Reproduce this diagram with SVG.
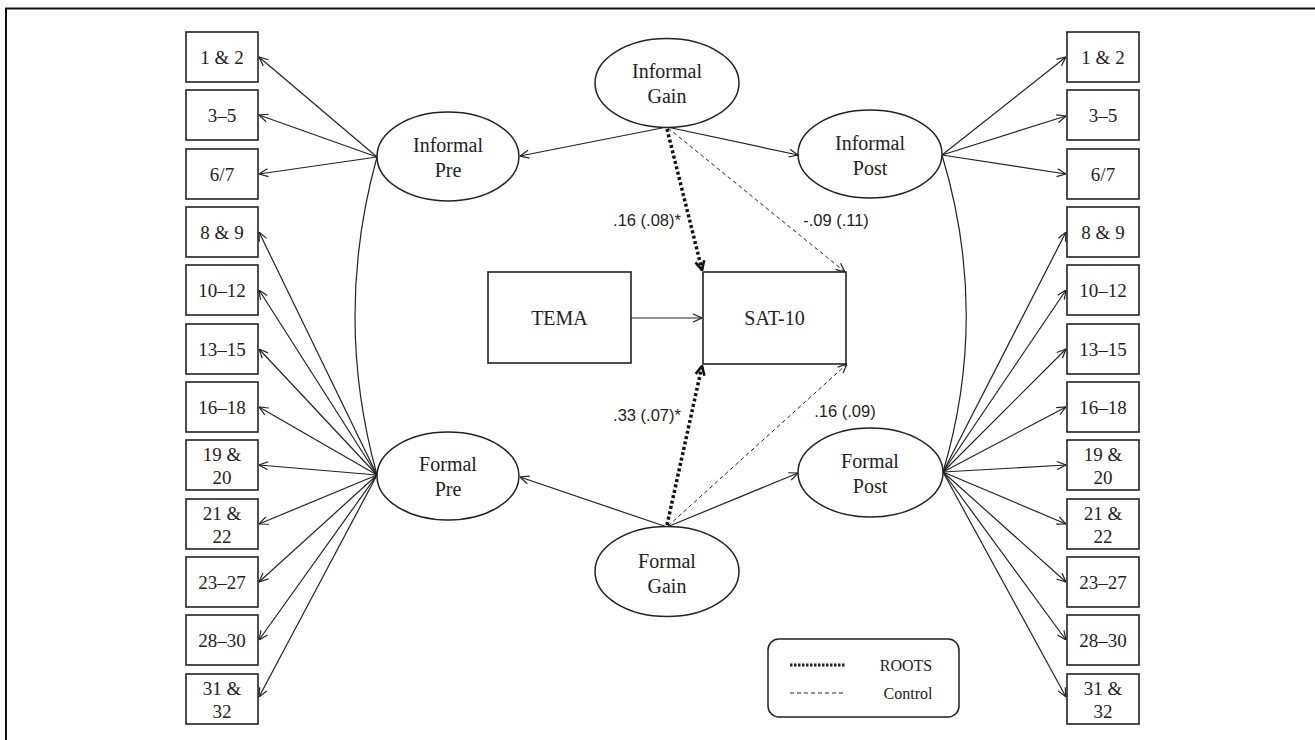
<svg xmlns="http://www.w3.org/2000/svg" width="1315" height="740" viewBox="0 0 1315 740">
<style>
.box{fill:#fff;stroke:#222;stroke-width:1.6}
.ell{fill:#fff;stroke:#222;stroke-width:1.5}
.t{font-family:"Liberation Serif","Times New Roman",serif;font-size:19px;fill:#222;text-anchor:middle}
.te{font-family:"Liberation Serif","Times New Roman",serif;font-size:20px;fill:#222;text-anchor:middle}
.lab{font-family:"Liberation Sans",Arial,sans-serif;font-size:16.5px;fill:#222;text-anchor:middle}
.lg{font-family:"Liberation Serif","Times New Roman",serif;font-size:16px;fill:#222;text-anchor:middle}
.ln{fill:none;stroke:#222;stroke-width:1.2}
.dot{fill:none;stroke:#111;stroke-width:3.5;stroke-dasharray:3 2.5}
.dash{fill:none;stroke:#222;stroke-width:1;stroke-dasharray:4 3}
</style>
<defs>
<marker id="a" viewBox="0 0 10 10" refX="10" refY="5" markerWidth="10" markerHeight="10" orient="auto" markerUnits="userSpaceOnUse"><path d="M1,1 L10,5 L1,9" fill="none" stroke="#222" stroke-width="1.2"/></marker>
<marker id="b" viewBox="0 0 12 12" refX="11" refY="6" markerWidth="12" markerHeight="12" orient="auto" markerUnits="userSpaceOnUse"><path d="M2,1.5 L11,6 L2,10.5" fill="none" stroke="#111" stroke-width="2.6"/></marker>
</defs>
<g id="frame"><path d="M6,740 V8.5 H1315" fill="none" stroke="#111" stroke-width="2"/></g>

<g id="connectors">
<!-- Informal Pre indicators -->
<line class="ln" x1="377" y1="157" x2="259" y2="57" marker-end="url(#a)"/>
<line class="ln" x1="377" y1="157" x2="259" y2="115" marker-end="url(#a)"/>
<line class="ln" x1="377" y1="157" x2="259" y2="174" marker-end="url(#a)"/>
<!-- Formal Pre indicators -->
<line class="ln" x1="377" y1="475" x2="259" y2="232" marker-end="url(#a)"/>
<line class="ln" x1="377" y1="475" x2="259" y2="290" marker-end="url(#a)"/>
<line class="ln" x1="377" y1="475" x2="259" y2="349" marker-end="url(#a)"/>
<line class="ln" x1="377" y1="475" x2="259" y2="407" marker-end="url(#a)"/>
<line class="ln" x1="377" y1="475" x2="259" y2="465" marker-end="url(#a)"/>
<line class="ln" x1="377" y1="475" x2="259" y2="524" marker-end="url(#a)"/>
<line class="ln" x1="377" y1="475" x2="259" y2="582" marker-end="url(#a)"/>
<line class="ln" x1="377" y1="475" x2="259" y2="640" marker-end="url(#a)"/>
<line class="ln" x1="377" y1="475" x2="259" y2="697" marker-end="url(#a)"/>
<!-- Informal Post indicators -->
<line class="ln" x1="942" y1="155" x2="1066" y2="57" marker-end="url(#a)"/>
<line class="ln" x1="942" y1="155" x2="1066" y2="116" marker-end="url(#a)"/>
<line class="ln" x1="942" y1="155" x2="1066" y2="174" marker-end="url(#a)"/>
<!-- Formal Post indicators -->
<line class="ln" x1="943" y1="472" x2="1066" y2="232" marker-end="url(#a)"/>
<line class="ln" x1="943" y1="472" x2="1066" y2="290" marker-end="url(#a)"/>
<line class="ln" x1="943" y1="472" x2="1066" y2="349" marker-end="url(#a)"/>
<line class="ln" x1="943" y1="472" x2="1066" y2="407" marker-end="url(#a)"/>
<line class="ln" x1="943" y1="472" x2="1066" y2="465" marker-end="url(#a)"/>
<line class="ln" x1="943" y1="472" x2="1066" y2="524" marker-end="url(#a)"/>
<line class="ln" x1="943" y1="472" x2="1066" y2="582" marker-end="url(#a)"/>
<line class="ln" x1="943" y1="472" x2="1066" y2="640" marker-end="url(#a)"/>
<line class="ln" x1="943" y1="472" x2="1066" y2="697" marker-end="url(#a)"/>
<!-- covariances -->
<path class="ln" d="M377,157 Q333,316 377,475"/>
<path class="ln" d="M942,155 Q990,314 943,472"/>
<!-- gain paths -->
<line class="ln" x1="667" y1="127" x2="520" y2="156" marker-end="url(#a)"/>
<line class="ln" x1="667" y1="127" x2="798" y2="155" marker-end="url(#a)"/>
<line class="ln" x1="667" y1="527" x2="520" y2="477" marker-end="url(#a)"/>
<line class="ln" x1="667" y1="527" x2="798" y2="473" marker-end="url(#a)"/>
<line class="ln" x1="631" y1="318" x2="702" y2="318" marker-end="url(#a)"/>
<line class="dot" x1="667" y1="129" x2="702" y2="270" marker-end="url(#b)"/>
<line class="dash" x1="668" y1="128" x2="845" y2="272" marker-end="url(#a)"/>
<line class="dot" x1="667" y1="525" x2="702" y2="366" marker-end="url(#b)"/>
<line class="dash" x1="668" y1="526" x2="847" y2="364" marker-end="url(#a)"/>
</g>

<g id="labels">
<text class="lab" x="647" y="226">.16 (.08)*</text>
<text class="lab" x="836" y="226">-.09 (.11)</text>
<text class="lab" x="647" y="421">.33 (.07)*</text>
<text class="lab" x="845" y="417">.16 (.09)</text>
</g>

<g id="n-informal-gain"><ellipse class="ell" cx="667" cy="83" rx="72" ry="44.5"/><text class="te" x="667" y="78">Informal</text><text class="te" x="667" y="103">Gain</text></g>
<g id="n-informal-pre"><ellipse class="ell" cx="448" cy="156.5" rx="71" ry="44.5"/><text class="te" x="448" y="152">Informal</text><text class="te" x="448" y="177">Pre</text></g>
<g id="n-informal-post"><ellipse class="ell" cx="870" cy="154" rx="72" ry="44"/><text class="te" x="870" y="150">Informal</text><text class="te" x="870" y="175">Post</text></g>
<g id="n-formal-pre"><ellipse class="ell" cx="448" cy="476" rx="71" ry="44"/><text class="te" x="448" y="471">Formal</text><text class="te" x="448" y="496">Pre</text></g>
<g id="n-formal-post"><ellipse class="ell" cx="870.5" cy="472.5" rx="72.5" ry="44.5"/><text class="te" x="870" y="468">Formal</text><text class="te" x="870" y="493">Post</text></g>
<g id="n-formal-gain"><ellipse class="ell" cx="667" cy="571.5" rx="72" ry="45"/><text class="te" x="667" y="568">Formal</text><text class="te" x="667" y="593">Gain</text></g>
<g id="n-tema"><rect class="box" x="488" y="272" width="143" height="91"/><text class="te" x="559.5" y="325">TEMA</text></g>
<g id="n-sat10"><rect class="box" x="703" y="272" width="143" height="92"/><text class="te" x="774.5" y="325">SAT-10</text></g>

<g id="left-items">
<g id="l1"><rect class="box" x="186" y="32" width="72" height="50"/><text class="t" x="222" y="64">1 &amp; 2</text></g>
<g id="l2"><rect class="box" x="186" y="90" width="72" height="50"/><text class="t" x="222" y="122">3–5</text></g>
<g id="l3"><rect class="box" x="186" y="149" width="72" height="50"/><text class="t" x="222" y="181">6/7</text></g>
<g id="l4"><rect class="box" x="186" y="207" width="72" height="50"/><text class="t" x="222" y="239">8 &amp; 9</text></g>
<g id="l5"><rect class="box" x="186" y="265" width="72" height="50"/><text class="t" x="222" y="297">10–12</text></g>
<g id="l6"><rect class="box" x="186" y="324" width="72" height="50"/><text class="t" x="222" y="356">13–15</text></g>
<g id="l7"><rect class="box" x="186" y="382" width="72" height="50"/><text class="t" x="222" y="414">16–18</text></g>
<g id="l8"><rect class="box" x="186" y="440" width="72" height="50"/><text class="t" x="222" y="461">19 &amp;</text><text class="t" x="222" y="484">20</text></g>
<g id="l9"><rect class="box" x="186" y="499" width="72" height="50"/><text class="t" x="222" y="520">21 &amp;</text><text class="t" x="222" y="543">22</text></g>
<g id="l10"><rect class="box" x="186" y="557" width="72" height="50"/><text class="t" x="222" y="589">23–27</text></g>
<g id="l11"><rect class="box" x="186" y="615" width="72" height="50"/><text class="t" x="222" y="647">28–30</text></g>
<g id="l12"><rect class="box" x="186" y="674" width="72" height="50"/><text class="t" x="222" y="695">31 &amp;</text><text class="t" x="222" y="718">32</text></g>
</g>

<g id="right-items">
<g id="r1"><rect class="box" x="1067" y="32" width="72" height="50"/><text class="t" x="1103" y="64">1 &amp; 2</text></g>
<g id="r2"><rect class="box" x="1067" y="90" width="72" height="50"/><text class="t" x="1103" y="122">3–5</text></g>
<g id="r3"><rect class="box" x="1067" y="149" width="72" height="50"/><text class="t" x="1103" y="181">6/7</text></g>
<g id="r4"><rect class="box" x="1067" y="207" width="72" height="50"/><text class="t" x="1103" y="239">8 &amp; 9</text></g>
<g id="r5"><rect class="box" x="1067" y="265" width="72" height="50"/><text class="t" x="1103" y="297">10–12</text></g>
<g id="r6"><rect class="box" x="1067" y="324" width="72" height="50"/><text class="t" x="1103" y="356">13–15</text></g>
<g id="r7"><rect class="box" x="1067" y="382" width="72" height="50"/><text class="t" x="1103" y="414">16–18</text></g>
<g id="r8"><rect class="box" x="1067" y="440" width="72" height="50"/><text class="t" x="1103" y="461">19 &amp;</text><text class="t" x="1103" y="484">20</text></g>
<g id="r9"><rect class="box" x="1067" y="499" width="72" height="50"/><text class="t" x="1103" y="520">21 &amp;</text><text class="t" x="1103" y="543">22</text></g>
<g id="r10"><rect class="box" x="1067" y="557" width="72" height="50"/><text class="t" x="1103" y="589">23–27</text></g>
<g id="r11"><rect class="box" x="1067" y="615" width="72" height="50"/><text class="t" x="1103" y="647">28–30</text></g>
<g id="r12"><rect class="box" x="1067" y="674" width="72" height="50"/><text class="t" x="1103" y="695">31 &amp;</text><text class="t" x="1103" y="718">32</text></g>
</g>

<g id="legend">
<rect x="768" y="639" width="191" height="78" rx="11" fill="#fff" stroke="#222" stroke-width="1.5"/>
<line x1="790" y1="665" x2="846" y2="665" stroke="#222" stroke-width="3" stroke-dasharray="2.5 1.5"/>
<line x1="790" y1="693" x2="845" y2="693" stroke="#222" stroke-width="1" stroke-dasharray="4 3"/>
<text class="lg" x="906" y="671">ROOTS</text>
<text class="lg" x="908" y="699">Control</text>
</g>
</svg>
